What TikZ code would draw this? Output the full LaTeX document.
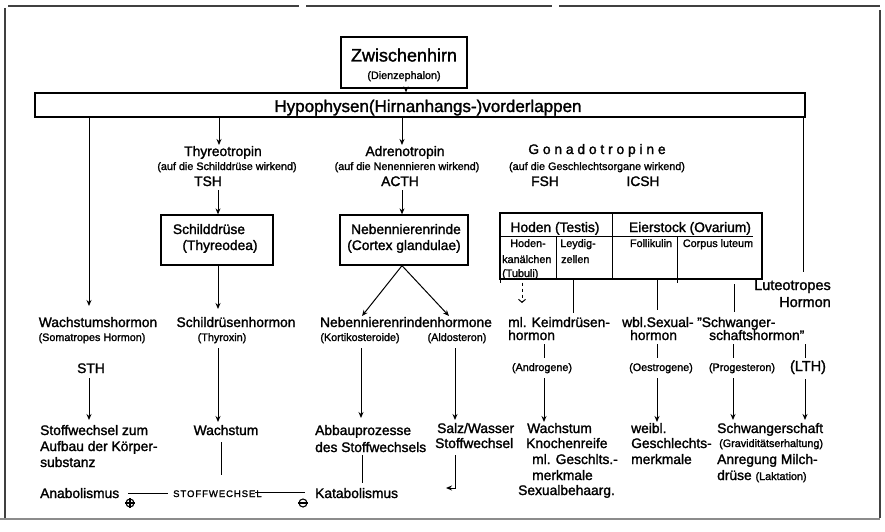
\documentclass[tikz,border=0pt]{standalone}
\usepackage{fontspec}
\setmainfont{Liberation Sans}[FakeBold=1.6]
\usetikzlibrary{arrows.meta}
\newcommand\fmain{\fontsize{13.8}{16}\selectfont}
\newcommand\fsmall{\fontsize{10.8}{12}\selectfont}
\newcommand\fbig{\fontsize{18}{20}\selectfont}
\newcommand\fhyp{\fontsize{17}{20}\selectfont}
\newcommand\flut{\fontsize{14.5}{17}\selectfont}
\newcommand\dq{\char"0022\relax}
\begin{document}
\begin{tikzpicture}[x=1pt,y=-1pt,
  txt/.style={inner sep=0pt, font=\fmain},
  sm/.style={inner sep=0pt, font=\fsmall},
  box/.style={draw, line width=1.3pt, inner sep=0pt},
  ln/.style={line width=1pt},
  arr/.style={line width=1pt, -{Stealth[length=6pt,width=5pt]}},
  frame/.style={line width=1.2pt, black!75}]
\useasboundingbox (0,0) rectangle (885,532);
% frame
\draw[frame] (5,8) -- (5,518);
\draw[frame] (8,6) -- (299,6);
\draw[frame] (306,6) -- (552,6);
\draw[frame] (559,6) -- (880,6);
\draw[frame] (880,10) -- (880,518);
\draw[frame, black!45] (0,519) -- (880,519);

% top boxes
\node[box, minimum width=126pt, minimum height=51pt] (zw) at (404,62.5) {};
\node[txt, font=\fbig, anchor=base] (zwt) at (404,61.5) {Zwischenhirn};
\node[sm, anchor=base] (zws) at (404,79) {(Dienzephalon)};
\node[box, minimum width=770pt, minimum height=24pt] (hyp) at (420,105) {};
\node[txt, font=\fhyp, anchor=base] (hypt) at (428,112) {Hypophysen(Hirnanhangs-)vorderlappen};
\draw[arr] (zw.south -| 406,0) -- (hyp.north -| 406,0);

% second level
\node[txt, anchor=base] (thy) at (223,156) {Thyreotropin};
\node[sm, anchor=base] (thys) at (227,170) {(auf die Schilddrüse wirkend)};
\node[txt, anchor=base] (tsh) at (208,186) {TSH};
\node[txt, anchor=base] (adr) at (405,156) {Adrenotropin};
\node[sm, anchor=base] (adrs) at (407,170) {(auf die Nenennieren wirkend)};
\node[txt, anchor=base] (acth) at (400,186) {ACTH};
\node[txt, anchor=base] (gon) at (597,154) {G o n a d o t r o p i n e};
\node[sm, anchor=base] (gons) at (597,170) {(auf die Geschlechtsorgane wirkend)};
\node[txt, anchor=base] (fsh) at (545,186) {FSH};
\node[txt, anchor=base] (icsh) at (643,186) {ICSH};

\draw[arr] (hyp.south -| 89,0) -- (89,306);
\draw[arr] (hyp.south -| 219,0) -- (219,145);
\draw[arr] (hyp.south -| 402,0) -- (402,145);
\draw[ln] (hyp.south -| 803,0) -- (803,272);

% gland boxes
\node[box, minimum width=112pt, minimum height=50pt] (sd) at (217,240) {};
\node[txt, anchor=base] (sd1) at (209,234) {Schilddrüse};
\node[txt, anchor=base] (sd2) at (220,250) {(Thyreodea)};
\node[box, minimum width=128pt, minimum height=50pt] (nnr) at (404,240) {};
\node[txt, anchor=base] (nnr1) at (406,234) {Nebennierenrinde};
\node[txt, anchor=base] (nnr2) at (404,250) {(Cortex glandulae)};
\draw[arr] (218,190) -- (sd.north -| 218,0);
\draw[arr] (402,190) -- (nnr.north -| 402,0);

% gonad table
\node[box, minimum width=262pt, minimum height=66pt] (tab) at (631,246) {};
\draw[ln] (500,236) -- (753,236);
\draw[ln] (612,213) -- (612,279);
\draw[ln] (556,236) -- (556,279);
\draw[ln] (677,236) -- (677,283);
\draw[ln] (500,279) -- (500,283);
\node[txt, anchor=base] (hod) at (555,232) {Hoden (Testis)};
\node[txt, anchor=base] (eie) at (690,232) {Eierstock (Ovarium)};
\node[sm, anchor=base] (hk1) at (528,247) {Hoden-};
\node[sm, anchor=base west] (hk2) at (502,263) {kanälchen};
\node[sm, anchor=base west] (hk3) at (502,277) {(Tubuli)};
\node[sm, anchor=base] (ley1) at (578,247) {Leydig-};
\node[sm, anchor=base west] (ley2) at (561,263) {zellen};
\node[sm, anchor=base] (fol) at (651,247) {Follikulin};
\node[sm, anchor=base] (cor) at (718,247) {Corpus luteum};

\node[txt, font=\flut, anchor=base east] (lut1) at (831,290) {Luteotropes};
\node[txt, font=\flut, anchor=base east] (lut2) at (831,307) {Hormon};

% hormone row
\node[txt, anchor=base] (wachs) at (98,327) {Wachstumshormon};
\node[txt, anchor=base] (schh) at (236,327) {Schildrüsenhormon};
\node[txt, anchor=base] (nnrh) at (406,327) {Nebennierenrindenhormone};
\node[txt, anchor=base west] (keim) at (508,327) {ml. Keimdrüsen-};
\node[txt, anchor=base west] (keim2) at (508,340) {hormon};
\node[txt, anchor=base west] (wbl) at (622,327) {wbl.Sexual-};
\node[txt, anchor=base west] (wbl2) at (630,340) {hormon};
\node[txt, anchor=base west] (schw) at (697,327) {\dq Schwanger-};
\node[txt, anchor=base west] (schw2) at (709,340) {schaftshormon\dq};

\node[sm, anchor=base] (somat) at (92,341) {(Somatropes Hormon)};
\node[sm, anchor=base] (thyrox) at (222,341) {(Thyroxin)};
\node[sm, anchor=base] (korti) at (360,341) {(Kortikosteroide)};
\node[sm, anchor=base] (aldo) at (457,341) {(Aldosteron)};
\node[sm, anchor=base] (andro) at (542,371) {(Androgene)};
\node[sm, anchor=base] (oestro) at (661,371) {(Oestrogene)};
\node[sm, anchor=base] (proge) at (742,371) {(Progesteron)};
\node[txt, font=\flut, anchor=base] (lth) at (808,371) {(LTH)};
\node[txt, anchor=base] (sth) at (91,373) {STH};

\draw[arr] (218,265) -- (218,309);
\draw[arr] (nnr.south -| 402,0) -- (362,316);
\draw[arr] (nnr.south -| 402,0) -- (449,316);
\draw[arr, dashed, -{Straight Barb[length=3pt,width=7pt]}] (tab.south -| 522,0) ++(0,3) -- (522,303);
\draw[ln] (tab.south -| 573,0) -- (573,313);
\draw[ln] (tab.south -| 657,0) -- (657,310);
\draw[ln] (734,284) -- (734,312);

\draw[ln] (544,344) -- (544,358);
\draw[ln] (657,344) -- (657,358);
\draw[ln] (733,344) -- (733,358);
\draw[ln] (805,344) -- (805,358);

\draw[arr] (89,378) -- (89,420);
\draw[arr] (218,348) -- (218,422);
\draw[arr] (361,348) -- (361,418);
\draw[arr] (455,348) -- (455,420);
\draw[arr] (544,378) -- (544,422);
\draw[arr] (657,378) -- (657,422);
\draw[arr] (733,378) -- (733,420);
\draw[arr] (805,379) -- (805,420);

% effects row
\node[txt, anchor=base west] (st1) at (40,435) {Stoffwechsel zum};
\node[txt, anchor=base west] (st2) at (40,451) {Aufbau der Körper-};
\node[txt, anchor=base west] (st3) at (40,467) {substanz};
\node[txt, anchor=base] (wst) at (226,435) {Wachstum};
\node[txt, anchor=base west] (ab1) at (315,435) {Abbauprozesse};
\node[txt, anchor=base west] (ab2) at (315,452) {des Stoffwechsels};
\node[txt, anchor=base west] (sz1) at (437,433) {Salz/Wasser};
\node[txt, anchor=base west] (sz2) at (435,448) {Stoffwechsel};
\node[txt, anchor=base west] (an1) at (527,433) {Wachstum};
\node[txt, anchor=base west] (an2) at (526,448) {Knochenreife};
\node[txt, anchor=base west] (an3) at (532,464) {ml. Geschlts.-};
\node[txt, anchor=base west] (an4) at (532,480) {merkmale};
\node[txt, anchor=base west] (an5) at (518,495) {Sexualbehaarg.};
\node[txt, anchor=base west] (we1) at (631,433) {weibl.};
\node[txt, anchor=base west] (we2) at (631,448) {Geschlechts-};
\node[txt, anchor=base west] (we3) at (631,464) {merkmale};
\node[txt, anchor=base west] (sw1) at (717,433) {Schwangerschaft};
\node[sm, anchor=base west] (sw2) at (719,447) {(Graviditätserhaltung)};
\node[txt, anchor=base west] (sw3) at (717,464) {Anregung Milch-};
\node[txt, anchor=base west] (sw4) at (717,480) {drüse {\fsmall (Laktation)}};

\draw[ln] (221,442) -- (221,475);
\draw[ln] (362,455) -- (362,483);
\draw[arr] (455,455) -- (455,488) -- (446,488);

% metabolism line
\node[txt, anchor=base west] (ana) at (40,498) {Anabolismus};
\node[txt, anchor=base west] (kata) at (315,498) {Katabolismus};
\node[inner sep=0pt, anchor=base west, font=\fontsize{9.5}{10}\selectfont\addfontfeature{LetterSpace=10}] (stw) at (173,497) {STOFFWECHSEL};
\draw[ln] (128,493) -- (168,493);
\draw[ln] (255,492) -- (305,492);
\node[draw, circle, line width=1.1pt, minimum size=8pt, inner sep=0pt] (plus) at (130,503) {};
\draw[line width=1.1pt] (plus.west) -- (plus.east) (plus.north) -- (plus.south);
\node[draw, circle, line width=1.1pt, minimum size=8pt, inner sep=0pt] (minus) at (303,503) {};
\draw[line width=1.1pt] (minus.west) -- (minus.east);
\end{tikzpicture}
\end{document}
